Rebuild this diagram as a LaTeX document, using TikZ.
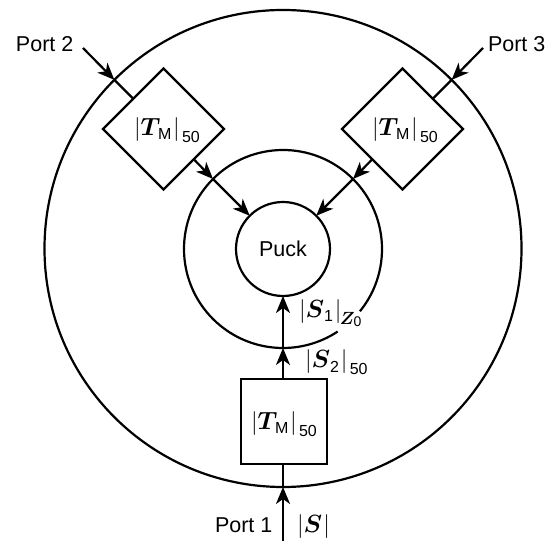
\documentclass[tikz,border=0pt]{standalone}
\usepackage{amsmath}
\usepackage{graphicx}
\usepackage{fontspec}
\setmainfont{Liberation Sans}
\usetikzlibrary{shapes.geometric,arrows.meta,calc}
\newcommand{\subsf}[1]{\mbox{\fontsize{16pt}{17pt}\selectfont #1}}
\newcommand{\bsym}[1]{\mbox{\scalebox{1.2}{$\boldsymbol{#1}$}}}
\newcommand{\vbar}{\mbox{\scalebox{1.15}{$|$}}}
\newcommand{\zsub}{\mbox{\fontsize{16pt}{17pt}\selectfont \kern-1.5pt\scalebox{1.02}{$\boldsymbol{Z}$}\kern-1pt\raisebox{-2pt}{\fontsize{14pt}{15pt}\selectfont 0}}}
\newcommand{\tmlabel}{$\vbar\bsym{T}_{\!\subsf{M}}\mkern1mu\vbar_{\,\subsf{50}}$}
\tikzset{
  ln/.style={line width=2.2pt},
  ring/.style={circle,draw,line width=2.2pt,inner sep=0pt,outer sep=0pt},
  dia/.style={diamond,draw,line width=2.2pt,inner sep=0pt,outer sep=0pt,aspect=1,minimum width=121pt,minimum height=121pt},
  blockbox/.style={rectangle,draw,line width=2.2pt,inner sep=0pt,outer sep=0pt,minimum width=86pt,minimum height=85pt},
  arr/.style={line width=2.2pt,-{Stealth[length=17pt,width=14pt,inset=5pt]}},
  txt/.style={anchor=base west,inner sep=0pt,outer sep=0pt,font=\fontsize{21.5pt}{25pt}\selectfont}
}
\begin{document}
\begin{tikzpicture}[x=1pt,y=1pt]
\useasboundingbox (0,0) rectangle (552,541);
% pixel y -> 541 - y
\node[ring,minimum size=477pt] (outer) at (283,292.5) {};
\node[circle,inner sep=0pt,outer sep=0pt,minimum size=198pt] (mid) at (283,292) {};
\node[ring,minimum size=94pt,font=\fontsize{21.5pt}{25pt}\selectfont] (puck) at (283,292) {Puck};
\draw[ln] ($(mid.center)+(-39:99pt)$) arc[start angle=-39,end angle=303.5,radius=99pt];
\node[dia] (dl) at (163.5,412) {};
\node[dia] (dr) at (402.5,412) {};
\node[blockbox] (bx) at (284,119.5) {};
\node[txt] (tl) at (134,405) {\tmlabel};
\node[txt] (tr) at (372,405) {\tmlabel};
\node[txt] (tb) at (251,111) {\tmlabel};
\node[txt] (p1) at (215,8) {Port 1};
\node[txt] (p2) at (16,489) {Port 2};
\node[txt] (p3) at (488,489) {Port 3};
\node[txt] (ss) at (297,8) {$\vbar\bsym{S}\mkern1mu\vbar$};
\node[txt] (s1) at (299,223) {$\vbar\bsym{S}_{\subsf{1}}\mkern1mu\vbar_{\zsub}$};
\node[txt] (s2) at (305,173) {$\vbar\bsym{S}_{\subsf{2}}\mkern1mu\vbar_{\,\subsf{50}}$};
\coordinate (c1) at (283,0);
\coordinate (c2) at (83,493);
\coordinate (c3) at (483,493);
% port 1
\draw[arr] (c1) -- (outer.south);
\draw[ln] (outer.south) -- (bx.south -| outer.south);
\draw[arr] (bx.north -| outer.south) -- (mid.south);
\draw[arr] (mid.south) -- (puck.south);
% port 2
\draw[arr] (c2) -- (outer.135);
\draw[ln] (outer.135) -- (dl.north west);
\draw[arr] (dl.south east) -- (mid.135);
\draw[arr] (mid.135) -- (puck.135);
% port 3
\draw[arr] (c3) -- (outer.45);
\draw[ln] (outer.45) -- (dr.north east);
\draw[arr] (dr.south west) -- (mid.45);
\draw[arr] (mid.45) -- (puck.45);
\end{tikzpicture}
\end{document}
